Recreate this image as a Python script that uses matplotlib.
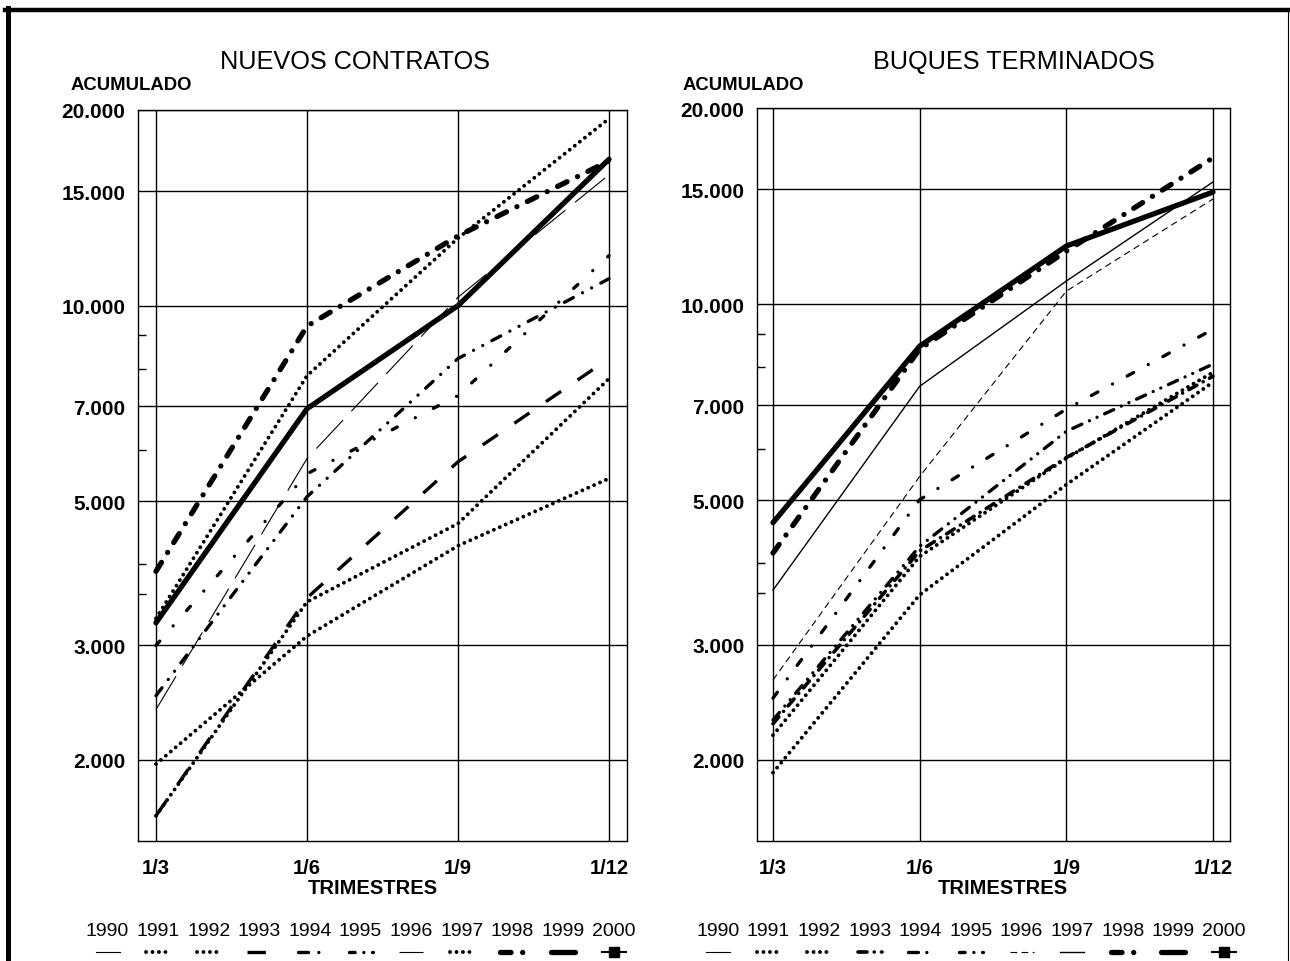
import matplotlib
matplotlib.use("Agg")
import matplotlib.pyplot as plt
from matplotlib.lines import Line2D
from matplotlib.ticker import NullFormatter

plt.rcParams['font.family'] = ['Liberation Sans', 'DejaVu Sans']

W, H = 1290, 962

trimestres = ["1/3", "1/6", "1/9", "1/12"]
years = list(range(1990, 2001))
y_ticks = [2000, 3000, 5000, 7000, 10000, 15000, 20000]
y_labels = ["2.000", "3.000", "5.000", "7.000", "10.000", "15.000", "20.000"]
y_minor = [3600, 4000, 6000, 8000, 9000]

# NUEVOS CONTRATOS (acumulado)
nc_1991 = [1970, 3100, 4270, 5420]
nc_1992 = [1640, 3500, 4620, 7720]
nc_1993 = [1640, 3550, 5750, 8290]
nc_1994 = [2510, 5080, 8290, 11000]
nc_1995 = [3000, 5510, 7270, 11940]
nc_1996 = [2390, 5815, 10300, 15900]
nc_1997 = [3300, 7800, 12700, 19400]
nc_1998 = [3900, 9300, 12800, 16700]
nc_1999 = [3250, 6940, 10000, 16800]

# BUQUES TERMINADOS (acumulado)
bt_1991 = [2180, 4100, 5800, 7860]
bt_1992 = [1910, 3580, 5285, 7590]
bt_1993 = [2270, 4180, 5815, 7750]
bt_1994 = [2300, 4250, 6380, 8090]
bt_1995 = [2485, 5010, 6900, 9150]
bt_1996 = [2650, 5440, 10470, 14500]
bt_1997 = [3640, 7480, 10850, 15400]
bt_1998 = [4150, 8530, 12060, 16770]
bt_1999 = [4620, 8620, 12280, 14860]

nuevos = {1991: nc_1991, 1992: nc_1992, 1993: nc_1993, 1994: nc_1994,
          1995: nc_1995, 1996: nc_1996, 1997: nc_1997, 1998: nc_1998,
          1999: nc_1999}
buques = {1991: bt_1991, 1992: bt_1992, 1993: bt_1993, 1994: bt_1994,
          1995: bt_1995, 1996: bt_1996, 1997: bt_1997, 1998: bt_1998,
          1999: bt_1999}

dotted = dict(lw=2.8, dashes=(0.01, 1.65), dash_capstyle='round')
heavy = dict(lw=3.8, dashes=(2, 2.2, 0.01, 2.2), dash_capstyle='round')
thick = dict(lw=3.8, solid_capstyle='round')
marked = dict(lw=1.5, marker='s', markersize=7)

styles_nc = {
    1990: dict(lw=0.8),
    1991: dotted,
    1992: dotted,
    1993: dict(lw=2.4, dashes=(5.5, 6)),
    1994: dict(lw=2.4, dashes=(3, 3.1, 0.01, 3.1, 0.01, 3.1), dash_capstyle='round'),
    1995: dict(lw=2.4, dashes=(1.7, 6.1, 0.01, 6.1), dash_capstyle='round'),
    1996: dict(lw=0.8, dashes=(35, 11)),
    1997: dotted,
    1998: heavy,
    1999: thick,
    2000: marked,
}
styles_bt = {
    1990: dict(lw=0.8),
    1991: dotted,
    1992: dotted,
    1993: dict(lw=2.6, dashes=(2.5, 2, 0.01, 2), dash_capstyle='round'),
    1994: dict(lw=2.4, dashes=(3, 2.5, 0.01, 2.5, 0.01, 2.5), dash_capstyle='round'),
    1995: dict(lw=2.4, dashes=(2.2, 5, 0.01, 5), dash_capstyle='round'),
    1996: dict(lw=0.8, dashes=(6, 4)),
    1997: dict(lw=1.0),
    1998: heavy,
    1999: thick,
    2000: marked,
}
# shorter patterns so the small legend samples show the dash and the dot
legend_fix = {1995: dict(dashes=(1.7, 2.6, 0.01, 2.6))}


def px(x0, y0, x1, y1):
    return [x0 / W, 1 - y1 / H, (x1 - x0) / W, (y1 - y0) / H]


def panel(ax, data, styles, xlim, xlab_x):
    for yr in years:
        if yr in data:
            ax.plot(range(4), data[yr], color='black', **styles[yr])
    ax.set_yscale('log')
    ax.set_ylim(1500, 20000)
    ax.set_xlim(*xlim)
    ax.set_xticks(range(4), trimestres, fontweight='bold', fontsize=14.5)
    ax.set_yticks(y_ticks, y_labels, fontweight='bold', fontsize=15)
    ax.set_yticks(y_minor, minor=True)
    ax.yaxis.set_minor_formatter(NullFormatter())
    ax.tick_params(axis='both', which='major', length=0)
    ax.tick_params(axis='x', which='major', pad=12)
    ax.tick_params(axis='y', which='major', pad=9)
    ax.tick_params(axis='y', which='minor', direction='in', length=6, width=1)
    ax.tick_params(axis='x', which='minor', length=0)
    ax.grid(True, which='major', color='black', lw=1.0)
    for s in ax.spines.values():
        s.set_linewidth(1.0)
    ax.set_xlabel('TRIMESTRES', fontweight='bold', fontsize=14.5)
    ax.xaxis.set_label_coords(xlab_x, -0.064)
    ax.xaxis.label.set_va('center')


fig = plt.figure(figsize=(W / 100, H / 100), dpi=100)
ax1 = fig.add_axes(px(138, 111, 627, 842))
ax2 = fig.add_axes(px(757, 109, 1230, 842))

panel(ax1, nuevos, styles_nc, (-0.119, 3.119), 0.48)
panel(ax2, buques, styles_bt, (-0.109, 3.116), 0.52)

fig.text(355 / W, 1 - 62 / H, 'NUEVOS CONTRATOS', ha='center', va='center', fontsize=18.2)
fig.text(1014 / W, 1 - 62 / H, 'BUQUES TERMINADOS', ha='center', va='center', fontsize=18.2)
fig.text(131 / W, 1 - 86 / H, 'ACUMULADO', ha='center', va='center', fontsize=13.3, fontweight='bold')
fig.text(743 / W, 1 - 85 / H, 'ACUMULADO', ha='center', va='center', fontsize=13.3, fontweight='bold')

# legend rows: year above, line sample below
for x0, styles in [(107.5, styles_nc), (718, styles_bt)]:
    step = 50.6
    for i, yr in enumerate(years):
        cx = x0 + i * step
        fig.text(cx / W, 1 - 932 / H, str(yr), ha='center', va='center', fontsize=14)
        kw = dict(styles[yr])
        kw.update(legend_fix.get(yr, {}))
        ln = Line2D([(cx - 12) / W, (cx + 12) / W], [1 - 953 / H] * 2,
                    transform=fig.transFigure, color='black', **kw)
        if yr == 2000:
            ln.set_markevery([1])
            ln.set_data([(cx - 12) / W, cx / W, (cx + 12) / W], [1 - 953 / H] * 3)
        fig.add_artist(ln)

# page frame
fig.add_artist(Line2D([5 / W, 1288 / W], [1 - 10.5 / H] * 2, transform=fig.transFigure,
                      color='black', lw=3.2))
fig.add_artist(Line2D([7.5 / W] * 2, [0, 1 - 9 / H], transform=fig.transFigure,
                      color='black', lw=3.6))
fig.add_artist(Line2D([1288 / W] * 2, [0, 1 - 10.5 / H], transform=fig.transFigure,
                      color='black', lw=0.8))

fig.savefig('out.png', dpi=100)
